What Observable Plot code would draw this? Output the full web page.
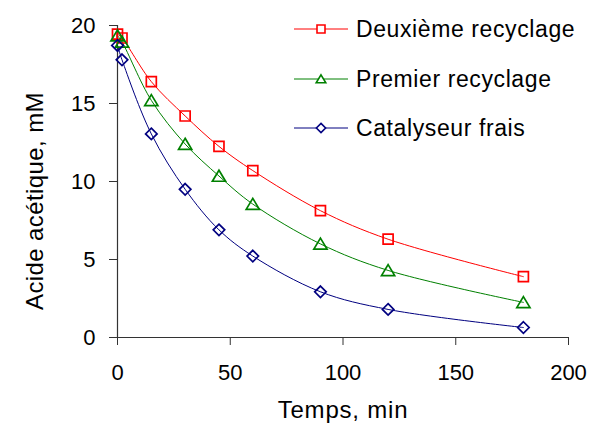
<!DOCTYPE html>
<html><head><meta charset="utf-8">
<script src="https://cdn.jsdelivr.net/npm/d3@7"></script>
<script src="https://cdn.jsdelivr.net/npm/@observablehq/plot@0.6"></script>
<style>
html,body{margin:0;padding:0;background:#fff;}
#chart{position:relative;width:591px;height:424px;font-family:"Liberation Sans",Arial,sans-serif;}
#legend{position:absolute;left:0;top:0;pointer-events:none;}
</style></head><body><div id="chart"></div>
<script>
const times = [0, 2, 15, 30, 45, 60, 90, 120, 180];
const deuxieme = [19.45, 19.2, 16.4, 14.2, 12.25, 10.7, 8.13, 6.3, 3.9];
const premier = [19.35, 18.95, 15.2, 12.4, 10.35, 8.55, 6.0, 4.3, 2.25];
const frais = [18.72, 17.8, 13.05, 9.5, 6.9, 5.22, 2.93, 1.8, 0.64];
const seriesNames = ["Deuxième recyclage", "Premier recyclage", "Catalyseur frais"];
const seriesColors = ["#ff0000", "#008000", "#000080"];
const xTicks = [0, 50, 100, 150, 200];
const yTicks = [0, 5, 10, 15, 20];
const xLabel = "Temps, min";
const yLabel = "Acide acétique, mM";

const rows = (vals, s) => times.map((t, i) => ({t, v: vals[i], s}));
const data = [rows(deuxieme, seriesNames[0]), rows(premier, seriesNames[1]), rows(frais, seriesNames[2])];

// custom bbox-centred symbols (size = r*r*PI)
const sq = {draw(c, size){const r = Math.sqrt(size/Math.PI); c.rect(-r, -r, 2*r, 2*r);}};
const tri = {draw(c, size){const r = Math.sqrt(size/Math.PI); c.moveTo(0, -r*1.05); c.lineTo(r*1.2, r*0.95); c.lineTo(-r*1.2, r*0.95); c.closePath();}};
const dia = {draw(c, size){const r = Math.sqrt(size/Math.PI); c.moveTo(0, -r*1.15); c.lineTo(r*1.15, 0); c.lineTo(0, r*1.15); c.lineTo(-r*1.15, 0); c.closePath();}};
const symbols = [sq, tri, dia];
const radii = [5, 5.5, 5];

const font = "'Liberation Sans', Arial, sans-serif";
const marks = [
  Plot.axisX({ticks: xTicks, tickSize: 8, tickPadding: 19, label: null, stroke: "#333", color: "#000"}),
  Plot.axisY({ticks: yTicks, tickSize: 8, tickPadding: 14, label: null, stroke: "#333", color: "#000"}),
  Plot.ruleX([0], {stroke: "#333", strokeWidth: 1.2}),
  Plot.ruleY([0], {stroke: "#333", strokeWidth: 1.2})
];
data.forEach((d, i) => {
  marks.push(Plot.line(d, {x: "t", y: "v", stroke: seriesColors[i], strokeWidth: 1, curve: "catmull-rom"}));
});
data.forEach((d, i) => {
  marks.push(Plot.dot(d, {x: "t", y: "v", stroke: seriesColors[i], fill: "none", strokeWidth: 1.7, symbol: symbols[i], r: radii[i]}));
});
marks.push(Plot.text([xLabel], {text: d => d, frameAnchor: "bottom", dy: 80, lineAnchor: "bottom", fontSize: 24, fill: "#000"}));

const plot = Plot.plot({
  width: 591, height: 424,
  marginLeft: 117, marginRight: 23, marginTop: 25, marginBottom: 87,
  style: {fontSize: "22px", fontFamily: font, color: "#000", background: "#fff"},
  x: {domain: [0, 200]},
  y: {domain: [0, 20]},
  marks
});
const chart = document.getElementById("chart");
chart.appendChild(plot);
d3.select(plot).selectAll("text").filter(function(){ return this.textContent === xLabel; }).style("letter-spacing", "0.8px");

// overlay: y title and legend
const lg = d3.select(chart).append("svg").attr("id", "legend").attr("width", 591).attr("height", 424);
lg.append("text").attr("transform", "translate(43,201) rotate(-90)").attr("text-anchor", "middle")
  .attr("font-family", font).attr("font-size", 24).attr("letter-spacing", "0.4px").attr("fill", "#000").text(yLabel);
const rowsY = [29, 79, 128];
const legSyms = [d3.symbol(sq, Math.PI*16), d3.symbol(tri, Math.PI*16), d3.symbol(dia, Math.PI*16)];
seriesNames.forEach((name, i) => {
  const g = lg.append("g").attr("transform", `translate(0,${rowsY[i]})`);
  g.append("line").attr("x1", 294).attr("x2", 348).attr("y1", 0).attr("y2", 0).attr("stroke", seriesColors[i]).attr("stroke-width", 1);
  g.append("path").attr("d", legSyms[i]()).attr("transform", "translate(321,0)").attr("fill", "#fff").attr("stroke", seriesColors[i]).attr("stroke-width", 1.6);
  g.append("text").attr("x", 356).attr("y", 8).attr("font-family", font).attr("font-size", 23).attr("letter-spacing", "0.6px").attr("fill", "#000").text(name);
});
</script></body></html>
